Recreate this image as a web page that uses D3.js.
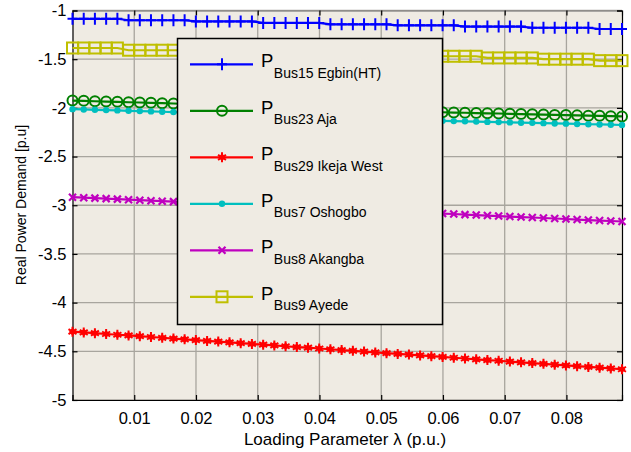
<!DOCTYPE html>
<html><head><meta charset="utf-8">
<script src="https://cdn.jsdelivr.net/npm/d3@7"></script>
<style>body{margin:0;background:#fff;} svg{display:block;font-family:"Liberation Sans",Arial,sans-serif;}</style>
</head><body>
<svg id="c" width="631" height="452"></svg>
<script>
const lambda = [0,0.00182,0.00363,0.00545,0.00727,0.00908,0.01090,0.01271,0.01453,0.01635,
0.01816,0.01998,0.02180,0.02361,0.02543,0.02724,0.02906,0.03088,0.03269,0.03451,
0.03633,0.03814,0.03996,0.04177,0.04359,0.04541,0.04722,0.04904,0.05086,0.05267,
0.05449,0.05630,0.05812,0.05994,0.06175,0.06357,0.06539,0.06720,0.06902,0.07084,
0.07265,0.07447,0.07628,0.07810,0.07992,0.08173,0.08355,0.08537,0.08718,0.08900];

const pBus15 = [-1.085,-1.085,-1.085,-1.085,-1.085,-1.100,-1.100,-1.100,-1.100,-1.100,
-1.100,-1.112,-1.112,-1.112,-1.112,-1.112,-1.112,-1.128,-1.128,-1.128,
-1.128,-1.128,-1.128,-1.142,-1.142,-1.142,-1.142,-1.142,-1.142,-1.152,
-1.152,-1.152,-1.152,-1.152,-1.152,-1.165,-1.165,-1.165,-1.165,-1.165,
-1.165,-1.177,-1.177,-1.177,-1.177,-1.177,-1.177,-1.190,-1.190,-1.190];

const pBus23 = [-1.925,-1.928,-1.932,-1.935,-1.938,-1.942,-1.945,-1.948,-1.952,-1.955,
-1.959,-1.963,-1.966,-1.970,-1.974,-1.978,-1.981,-1.985,-1.989,-1.993,
-1.996,-2.000,-2.004,-2.008,-2.011,-2.015,-2.019,-2.023,-2.026,-2.030,
-2.034,-2.038,-2.041,-2.045,-2.048,-2.050,-2.053,-2.056,-2.058,-2.061,
-2.064,-2.066,-2.069,-2.072,-2.074,-2.077,-2.080,-2.082,-2.085,-2.088];

const pBus29 = [-4.298,-4.306,-4.314,-4.322,-4.330,-4.337,-4.345,-4.353,-4.361,-4.369,
-4.377,-4.385,-4.393,-4.400,-4.408,-4.416,-4.424,-4.432,-4.440,-4.448,
-4.456,-4.463,-4.471,-4.479,-4.487,-4.495,-4.503,-4.511,-4.519,-4.527,
-4.534,-4.542,-4.550,-4.558,-4.566,-4.574,-4.582,-4.590,-4.597,-4.605,
-4.613,-4.621,-4.629,-4.637,-4.645,-4.653,-4.660,-4.668,-4.676,-4.684];

const pBus7 = [-2.013,-2.016,-2.020,-2.023,-2.026,-2.030,-2.033,-2.036,-2.040,-2.043,
-2.047,-2.051,-2.054,-2.058,-2.062,-2.066,-2.069,-2.073,-2.077,-2.081,
-2.084,-2.088,-2.092,-2.096,-2.099,-2.103,-2.107,-2.111,-2.114,-2.118,
-2.122,-2.126,-2.129,-2.133,-2.136,-2.138,-2.141,-2.144,-2.146,-2.149,
-2.152,-2.154,-2.157,-2.160,-2.162,-2.165,-2.168,-2.170,-2.173,-2.176];

const pBus8 = [-2.917,-2.922,-2.927,-2.932,-2.937,-2.943,-2.948,-2.953,-2.958,-2.963,
-2.968,-2.973,-2.978,-2.983,-2.988,-2.994,-2.999,-3.004,-3.009,-3.014,
-3.019,-3.024,-3.029,-3.034,-3.039,-3.045,-3.050,-3.055,-3.060,-3.065,
-3.070,-3.075,-3.080,-3.085,-3.090,-3.096,-3.101,-3.106,-3.111,-3.116,
-3.121,-3.126,-3.131,-3.136,-3.141,-3.147,-3.152,-3.157,-3.162,-3.167];

const pBus9 = [-1.385,-1.385,-1.385,-1.385,-1.385,-1.408,-1.408,-1.408,-1.408,-1.408,
-1.408,-1.425,-1.425,-1.425,-1.425,-1.425,-1.425,-1.440,-1.440,-1.440,
-1.440,-1.440,-1.440,-1.455,-1.455,-1.455,-1.455,-1.455,-1.455,-1.455,
-1.455,-1.470,-1.470,-1.470,-1.470,-1.470,-1.470,-1.487,-1.487,-1.487,
-1.487,-1.487,-1.500,-1.500,-1.500,-1.500,-1.500,-1.515,-1.515,-1.515];

const xTicks = [0.01,0.02,0.03,0.04,0.05,0.06,0.07,0.08];
const yTicks = [-1,-1.5,-2,-2.5,-3,-3.5,-4,-4.5,-5];
const seriesNames = ["Bus15 Egbin(HT)","Bus23 Aja","Bus29 Ikeja West","Bus7 Oshogbo","Bus8 Akangba","Bus9 Ayede"];
const seriesData = [pBus15,pBus23,pBus29,pBus7,pBus8,pBus9];
const seriesColors = ["#0000ff","#008000","#ff0000","#00bfbf","#bf00bf","#bfbf00"];
const seriesMarkers = ["plus","circle","star","dot","cross","square"];

const svg = d3.select("#c");
const L = 72.5, R = 622, T = 10.5, B = 400;
const x = d3.scaleLinear().domain([0, 0.089]).range([L, R]);
const y = d3.scaleLinear().domain([-5, -1]).range([B, T]);
const bg = "#efebe3";

svg.append("rect").attr("x",L).attr("y",T).attr("width",R-L).attr("height",B-T).attr("fill",bg);

// grid
const g = svg.append("g");
g.selectAll(".gx").data(xTicks).enter().append("line")
  .attr("x1",d=>x(d)).attr("x2",d=>x(d)).attr("y1",T).attr("y2",B)
  .attr("stroke","#a8a59e").attr("stroke-width",1.3);
g.selectAll(".gy").data(yTicks).enter().append("line")
  .attr("x1",L).attr("x2",R).attr("y1",d=>y(d)).attr("y2",d=>y(d))
  .attr("stroke","#a8a59e").attr("stroke-width",1.3);

// axes with inner ticks
const axB = svg.append("g").attr("transform",`translate(0,${B})`)
  .call(d3.axisBottom(x).tickValues(xTicks).tickSize(-5).tickPadding(12).tickFormat(d3.format(".2f")));
const axT = svg.append("g").attr("transform",`translate(0,${T})`)
  .call(d3.axisTop(x).tickValues(xTicks).tickSize(-5).tickFormat(""));
const axL = svg.append("g").attr("transform",`translate(${L},0)`)
  .call(d3.axisLeft(y).tickValues(yTicks).tickSize(-5).tickPadding(6).tickFormat(d=>String(d)));
const axR = svg.append("g").attr("transform",`translate(${R},0)`)
  .call(d3.axisRight(y).tickValues(yTicks).tickSize(-5).tickFormat(""));
[axB,axT,axL,axR].forEach(a=>{
  a.select(".domain").attr("stroke","#000").attr("stroke-width",1.2);
  a.selectAll(".tick line").attr("stroke","#000").attr("stroke-width",1.2);
  a.selectAll("text").attr("font-size",16.5).attr("fill","#000").attr("font-family","Liberation Sans, Arial, sans-serif");
});
axT.select(".domain").attr("stroke","#777");

// markers
function drawMarker(sel, type, color, cx, cy) {
  const m = sel.append("g").attr("transform",`translate(${cx},${cy})`);
  if (type==="plus") {
    m.append("path").attr("d","M-5,0H5M0,-6V6").attr("stroke",color).attr("stroke-width",2).attr("fill","none");
  } else if (type==="circle") {
    m.append("circle").attr("r",5).attr("fill","none").attr("stroke",color).attr("stroke-width",2);
  } else if (type==="star") {
    m.append("path").attr("d","M0,-5V5M-4,-2.5L4,2.5M-4,2.5L4,-2.5").attr("stroke",color).attr("stroke-width",2).attr("fill","none");
    m.append("path").attr("d","M0,-4L3.5,0L0,4L-3.5,0Z").attr("fill",color);
  } else if (type==="dot") {
    m.append("circle").attr("r",3.2).attr("fill",color);
  } else if (type==="cross") {
    m.append("path").attr("d","M-3.5,-3.5L3.5,3.5M-3.5,3.5L3.5,-3.5").attr("stroke",color).attr("stroke-width",2.2).attr("fill","none");
  } else if (type==="square") {
    m.append("rect").attr("x",-5.5).attr("y",-5.5).attr("width",11).attr("height",11).attr("fill","none").attr("stroke",color).attr("stroke-width",2);
  }
}

const line = d3.line().x((d,i)=>x(lambda[i])).y(d=>y(d));
seriesData.forEach((arr,k)=>{
  const gs = svg.append("g");
  gs.append("path").datum(arr).attr("d",line).attr("fill","none")
    .attr("stroke",seriesColors[k]).attr("stroke-width",2.2);
  arr.forEach((v,i)=>drawMarker(gs, seriesMarkers[k], seriesColors[k], x(lambda[i]), y(v)));
});

// legend
const lg = svg.append("g");
const lx = 177.5, ly = 38.5, lw = 265, lh = 286;
lg.append("rect").attr("x",lx).attr("y",ly).attr("width",lw).attr("height",lh)
  .attr("fill",bg).attr("stroke","#000").attr("stroke-width",1.5);
seriesNames.forEach((name,k)=>{
  const ry = 64.3 + k*46.5;
  lg.append("line").attr("x1",190).attr("x2",253).attr("y1",ry).attr("y2",ry)
    .attr("stroke",seriesColors[k]).attr("stroke-width",2.2);
  drawMarker(lg, seriesMarkers[k], seriesColors[k], 222, ry);
  const t = lg.append("text").attr("x",261).attr("y",ry+3).attr("fill","#000");
  t.append("tspan").attr("font-size",18.5).text("P");
  t.append("tspan").attr("font-size",14).attr("dy",10.5).attr("dx",0.5).text(name);
});

// axis labels
svg.append("text").attr("x",345).attr("y",445).attr("text-anchor","middle")
  .attr("font-size",17).attr("fill","#000").text("Loading Parameter λ (p.u.)");
svg.append("text").attr("transform","translate(26,205) rotate(-90)").attr("text-anchor","middle")
  .attr("font-size",14).attr("fill","#000").text("Real Power Demand [p.u]");
</script>
</body></html>
